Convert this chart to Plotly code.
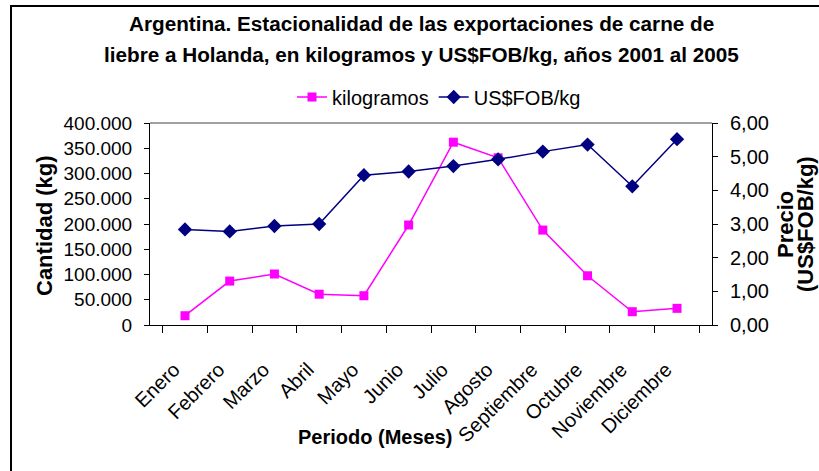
import plotly.graph_objects as go

meses = ["Enero", "Febrero", "Marzo", "Abril", "Mayo", "Junio", "Julio",
         "Agosto", "Septiembre", "Octubre", "Noviembre", "Diciembre"]
kilogramos = [18400, 87000, 101000, 61000, 58000, 198000, 362000,
              331000, 188000, 97500, 26300, 33000]
precio = [2.84, 2.78, 2.94, 3.00, 4.45, 4.56, 4.72, 4.92, 5.15, 5.36, 4.12, 5.52]

FONT = "Liberation Sans, Arial, sans-serif"
W, H = 819, 471
L, R, T, B = 150, 107, 123, 146
pw, ph = W - L - R, H - T - B


def px(x):
    return (x - L) / pw


def py(y):
    return (H - B - y) / ph


fig = go.Figure()
fig.add_trace(go.Scatter(
    x=meses, y=kilogramos, name="kilogramos", mode="lines+markers",
    line=dict(color="#FF00FF", width=1.5),
    marker=dict(symbol="square", size=9, color="#FF00FF"),
    yaxis="y"))
fig.add_trace(go.Scatter(
    x=meses, y=precio, name="US$FOB/kg", mode="lines+markers",
    line=dict(color="#000080", width=1.5),
    marker=dict(symbol="diamond", size=11, color="#000080"),
    yaxis="y2"))

fig.update_layout(
    width=W, height=H,
    margin=dict(l=L, r=R, t=T, b=B, autoexpand=False),
    paper_bgcolor="white", plot_bgcolor="white",
    separators=",.",
    font=dict(family=FONT, color="black"),
    showlegend=True,
    legend=dict(orientation="h", x=px(439), y=py(97), xanchor="center",
                yanchor="middle", font=dict(size=20, family=FONT),
                bgcolor="rgba(0,0,0,0)", itemwidth=30, tracegroupgap=0),
    xaxis=dict(type="category", showgrid=False, showline=True,
               linecolor="black", linewidth=1, ticks="outside",
               tickson="boundaries", ticklen=7, tickcolor="black",
               tickangle=-45, tickfont=dict(size=20, family=FONT),
               ticklabelstandoff=24, ticklabelshift=-11, automargin=False),
    yaxis=dict(range=[0, 400000], dtick=50000, tickformat=",d",
               showgrid=False, zeroline=False, showline=True,
               linecolor="black", linewidth=1, ticks="outside", ticklen=5,
               tickcolor="black", tickfont=dict(size=19, family=FONT),
               ticklabelstandoff=8, automargin=False),
    yaxis2=dict(range=[0, 6], dtick=1, tickformat=".2f", overlaying="y",
                side="right", showgrid=False, zeroline=False, showline=True,
                linecolor="black", linewidth=1, ticks="outside", ticklen=5,
                tickcolor="black", tickfont=dict(size=20, family=FONT),
                ticklabelstandoff=8, automargin=False),
)

annotations = [
    dict(text="<b>Argentina. Estacionalidad de las exportaciones de carne de</b>",
         x=px(421), y=py(23), font=dict(size=20.7)),
    dict(text="<b>liebre a Holanda, en kilogramos y US$FOB/kg, años 2001 al 2005</b>",
         x=px(421), y=py(55), font=dict(size=20.7)),
    dict(text="<b>Cantidad (kg)</b>", x=px(44), y=py(226), textangle=-90,
         font=dict(size=22)),
    dict(text="<b>Precio</b>", x=px(785), y=py(225), textangle=-90,
         font=dict(size=22)),
    dict(text="<b>(US$FOB/kg)</b>", x=px(805), y=py(224), textangle=-90,
         font=dict(size=22)),
    dict(text="<b>Periodo (Meses)</b>", x=px(375), y=py(437),
         font=dict(size=20)),
]
for a in annotations:
    a.update(xref="paper", yref="paper", showarrow=False,
             xanchor="center", yanchor="middle")
    a["font"].update(family=FONT, color="black")
fig.update_layout(annotations=annotations)

# outer chart frame (only left and top edges are inside the picture)
fig.add_shape(type="line", xref="paper", yref="paper",
              x0=px(11), x1=px(819), y0=py(6), y1=py(6),
              line=dict(color="black", width=2))
fig.add_shape(type="line", xref="paper", yref="paper",
              x0=px(11), x1=px(11), y0=py(5), y1=py(471),
              line=dict(color="black", width=2))
# grey top edge of the plot area
fig.add_shape(type="line", xref="paper", yref="paper",
              x0=0, x1=1, y0=1, y1=1,
              line=dict(color="#808080", width=1.5))

fig.write_html(
    "out.html",
    config={"displayModeBar": False},
    post_script=(
        "document.body.style.margin='0px';"
        "document.documentElement.style.overflow='hidden';"
        "var fr=document.createElement('div');"
        "fr.style.cssText='position:absolute;left:10px;top:5px;width:1000px;"
        "height:1000px;border-left:2px solid #000;border-top:2px solid #000;"
        "pointer-events:none;';"
        "document.body.appendChild(fr);"))
